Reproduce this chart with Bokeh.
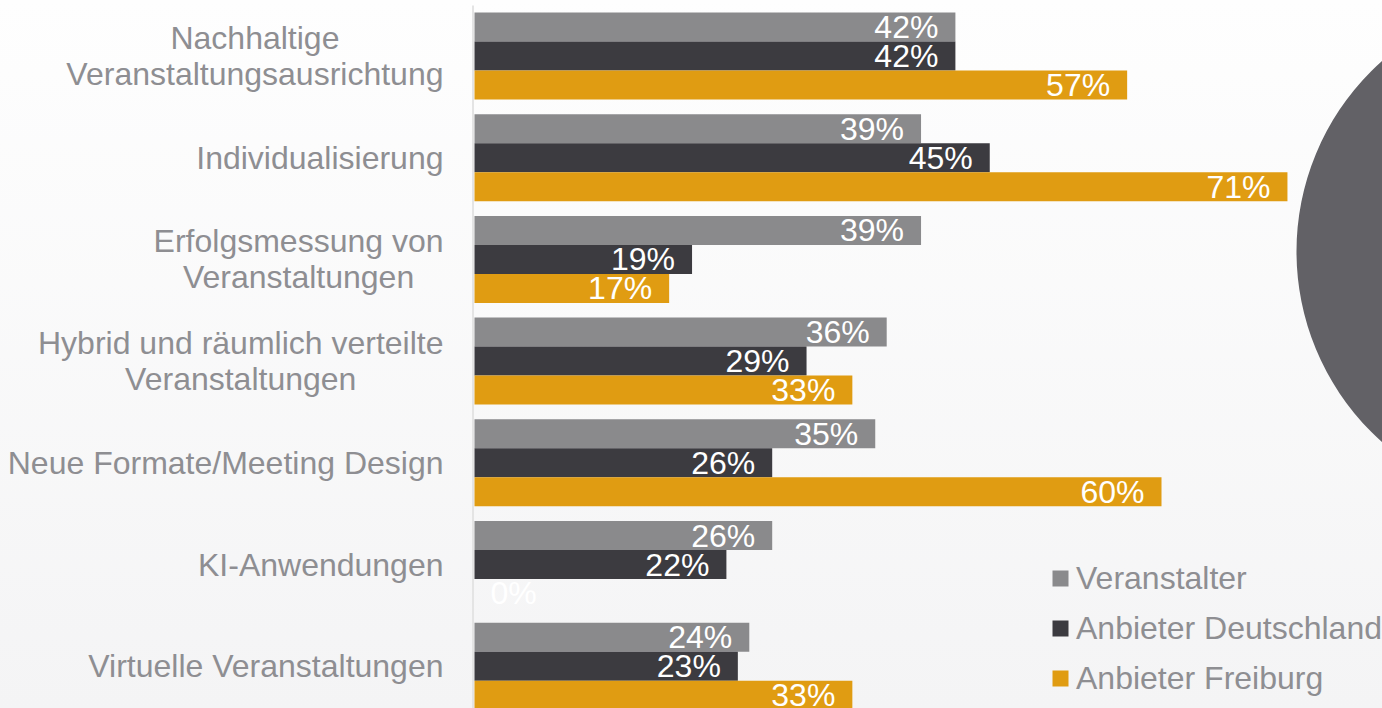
from bokeh.plotting import figure
from bokeh.models import ColumnDataSource, Range1d, Legend, LegendItem, Label
from bokeh.transform import dodge
from bokeh.embed import file_html
from bokeh.resources import INLINE
from bokeh.core.properties import value

# ---------------- data ----------------
categories = [
    "Nachhaltige\nVeranstaltungsausrichtung",
    "Individualisierung",
    "Erfolgsmessung von\nVeranstaltungen",
    "Hybrid und räumlich verteilte\nVeranstaltungen",
    "Neue Formate/Meeting Design",
    "KI-Anwendungen",
    "Virtuelle Veranstaltungen",
]
series_names = ["Veranstalter", "Anbieter Deutschland", "Anbieter Freiburg"]
veranstalter = [42, 39, 39, 36, 35, 26, 24]
anbieter_deutschland = [42, 45, 19, 29, 26, 22, 23]
anbieter_freiburg = [57, 71, 17, 33, 60, 0, 33]

# ---------------- style ----------------
colors = ["#8a8a8c", "#3c3b40", "#e09c12"]
FONT = "Liberation Sans"
TEXT_GREY = "#8e8e92"
PX_PER_UNIT_Y = 101.7
PX_PER_UNIT_X = 11.45
W, H = 1382, 708
ZERO_PX = 474          # screen x of value 0
FIRST_CENTER_PX = 55.5  # screen y of first category centre
BAR_H = 0.285

n = len(categories)
ypos = [n - 1 - i for i in range(n)]
y_end = (n - 1) + FIRST_CENTER_PX / PX_PER_UNIT_Y
y_start = y_end - H / PX_PER_UNIT_Y
x_start = -ZERO_PX / PX_PER_UNIT_X
x_end = x_start + W / PX_PER_UNIT_X

p = figure(
    width=W, height=H,
    x_range=Range1d(x_start, x_end), y_range=Range1d(y_start, y_end),
    x_axis_location=None, y_axis_location=None,
    toolbar_location=None, output_backend="svg",
    min_border_left=0, min_border_right=0, min_border_top=0, min_border_bottom=0,
)
p.styles = {"background": "linear-gradient(to bottom, #fefefe, #f4f4f5)"}
p.background_fill_alpha = 0
p.border_fill_alpha = 0
p.outline_line_color = None
p.xgrid.visible = False
p.ygrid.visible = False

# category axis line
axis_x = -1.5 / PX_PER_UNIT_X
p.segment(x0=[axis_x], x1=[axis_x], y0=[y_end - 5 / PX_PER_UNIT_Y], y1=[y_start],
          line_color="#e4e4e4", line_width=2)

# decorative circle (partially visible on right)
p.circle(x=[94.06], y=[4.078], radius=255, radius_units="screen",
         fill_color="#626166", line_color=None)

offsets = [BAR_H, 0.0, -BAR_H]
all_vals = [veranstalter, anbieter_deutschland, anbieter_freiburg]
renderers = []
for name, vals, col, off in zip(series_names, all_vals, colors, offsets):
    src = ColumnDataSource(dict(
        y=ypos, v=vals,
        lbl=[f"{v}%" for v in vals],
        al=["right" if v > 5 else "left" for v in vals],
        xo=[-17 if v > 5 else 16 for v in vals],
    ))
    r = p.hbar(y=dodge("y", off, range=p.y_range), left=0, right="v", height=BAR_H,
               source=src, fill_color=col, line_color=None)
    renderers.append(r)
    p.text(x="v", y=dodge("y", off, range=p.y_range), text="lbl", source=src,
           text_align="al", x_offset="xo", text_baseline="middle",
           text_color="white", text_font=value(FONT), text_font_size="32px")

# category labels: block right-aligned, lines centred
for y, c in zip(ypos, categories):
    p.add_layout(Label(
        x=0, y=y, text=c, x_offset=-31, anchor="center_right", text_align="center",
        text_baseline="middle", text_line_height=1.0,
        text_font=FONT, text_font_size="32px", text_color=TEXT_GREY,
    ))

legend = Legend(
    items=[LegendItem(label=nm, renderers=[r]) for nm, r in zip(series_names, renderers)],
    location=(1050, 5), orientation="vertical", padding=0, margin=0, spacing=0,
    label_height=50, glyph_height=20, glyph_width=20, label_standoff=6,
    label_text_font=FONT, label_text_font_size="32px", label_text_color=TEXT_GREY,
    background_fill_alpha=0, border_line_alpha=0,
)
p.add_layout(legend)

open("out.html", "w").write(file_html(p, INLINE))
